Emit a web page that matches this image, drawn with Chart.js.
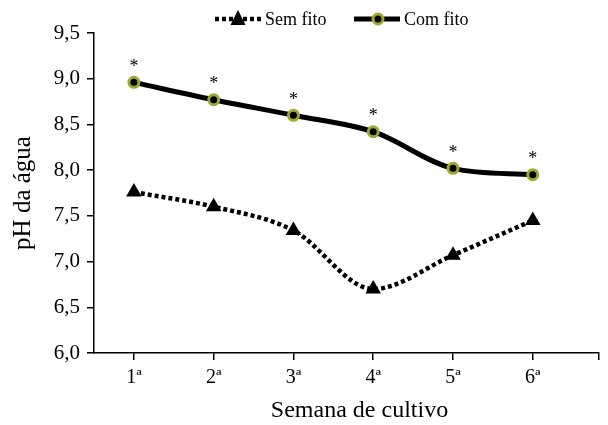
<!DOCTYPE html>
<html><head><meta charset="utf-8">
<script src="https://cdn.jsdelivr.net/npm/chart.js@4"></script>
<style>html,body{margin:0;padding:0;background:#fff}#wrap{width:608px;height:425px}</style>
</head><body><div id="wrap"><canvas id="c" width="608" height="425"></canvas></div>
<script>
const categories = ['1ª','2ª','3ª','4ª','5ª','6ª'];
const weeks = [1,2,3,4,5,6];
const semFito = [7.76, 7.60, 7.34, 6.70, 7.07, 7.45];
const comFito = [8.96, 8.77, 8.60, 8.42, 8.02, 7.95];
const comFitoMarks = ['*','*','*','*','*','*'];
const yTicks = [6.0,6.5,7.0,7.5,8.0,8.5,9.0,9.5];
const xTitle = 'Semana de cultivo';

const OLIVE = '#9ca82e';
const FONT = 'Liberation Serif';

const extras = {
  id:'extras',
  afterDatasetsDraw(chart){
    const ctx = chart.ctx, x = chart.scales.x, y = chart.scales.y, ca = chart.chartArea;
    ctx.save();
    ctx.fillStyle = '#000';
    ctx.font = '18px "'+FONT+'"';
    ctx.textAlign='center'; ctx.textBaseline='middle';
    comFito.forEach((v,i)=>{
      ctx.fillText(comFitoMarks[i], x.getPixelForValue(weeks[i]), y.getPixelForValue(v)-15);
    });
    // x axis title
    ctx.font = '24px "'+FONT+'"';
    ctx.fillText(xTitle, (ca.left+ca.right)/2 + 13, 411);
    // legend
    const ly = 19;
    ctx.lineWidth = 4.5; ctx.strokeStyle='#000';
    ctx.setLineDash([4,3]);
    ctx.beginPath(); ctx.moveTo(215,ly); ctx.lineTo(261,ly); ctx.stroke();
    ctx.setLineDash([]);
    ctx.beginPath(); ctx.moveTo(238,ly-9); ctx.lineTo(245.5,ly+6); ctx.lineTo(230.5,ly+6); ctx.closePath(); ctx.fill();
    ctx.lineWidth = 5;
    ctx.beginPath(); ctx.moveTo(354,ly); ctx.lineTo(400,ly); ctx.stroke();
    ctx.beginPath(); ctx.arc(378,ly,5,0,Math.PI*2); ctx.fillStyle='#000'; ctx.fill();
    ctx.lineWidth=3; ctx.strokeStyle=OLIVE; ctx.stroke();
    ctx.fillStyle='#000'; ctx.textAlign='left'; ctx.font='18px "'+FONT+'"';
    ctx.fillText('Sem fito', 265, ly+1);
    ctx.fillText('Com fito', 404, ly+1);
    ctx.restore();
  }
};

new Chart(document.getElementById('c'), {
  type:'line',
  data:{
    datasets:[
      {label:'Sem fito', data: weeks.map((w,i)=>({x:w,y:semFito[i]})),
       borderColor:'#000', backgroundColor:'#000', borderWidth:4.5, borderDash:[4,3],
       pointStyle:'triangle', pointRadius:9, pointBackgroundColor:'#000', pointBorderColor:'#000', pointBorderWidth:0,
       cubicInterpolationMode:'monotone'},
      {label:'Com fito', data: weeks.map((w,i)=>({x:w,y:comFito[i]})),
       borderColor:'#000', backgroundColor:'#000', borderWidth:5,
       pointStyle:'circle', pointRadius:5, pointBackgroundColor:'#000', pointBorderColor:OLIVE, pointBorderWidth:3,
       cubicInterpolationMode:'monotone'}
    ]
  },
  options:{
    responsive:false, animation:false, devicePixelRatio:1,
    layout:{padding:{top:33,right:4,left:0,bottom:0}},
    plugins:{legend:{display:false}, tooltip:{enabled:false}},
    scales:{
      x:{type:'linear', min:0.5, max:6.83,
        afterBuildTicks(s){ s.ticks = weeks.map(v=>({value:v})).concat([{value:6.83}]); },
        afterFit(s){ s.height = 72; },
        ticks:{color:'#000', font:{family:FONT,size:20}, padding:6, autoSkip:false, maxRotation:0,
          callback:(v)=>{ const i = weeks.indexOf(v); return i>=0?categories[i]:''; }},
        grid:{drawOnChartArea:false, drawTicks:true, tickLength:7, color:'#000', lineWidth:1.5},
        border:{color:'#000', width:1.5},
        title:{display:false}
      },
      y:{min:6, max:9.5,
        afterBuildTicks(s){ s.ticks = yTicks.map(v=>({value:v})); },
        afterFit(s){ s.width = 94; },
        ticks:{color:'#000', font:{family:FONT,size:21}, padding:7,
          callback:(v)=>v.toFixed(1).replace('.',',')},
        grid:{drawOnChartArea:false, drawTicks:true, tickLength:7, color:'#000', lineWidth:1.5},
        border:{color:'#000', width:1.5},
        title:{display:true, text:'pH da água', color:'#000', font:{family:FONT,size:25}, padding:{top:8,bottom:0}}
      }
    }
  },
  plugins:[extras]
});
</script></body></html>
